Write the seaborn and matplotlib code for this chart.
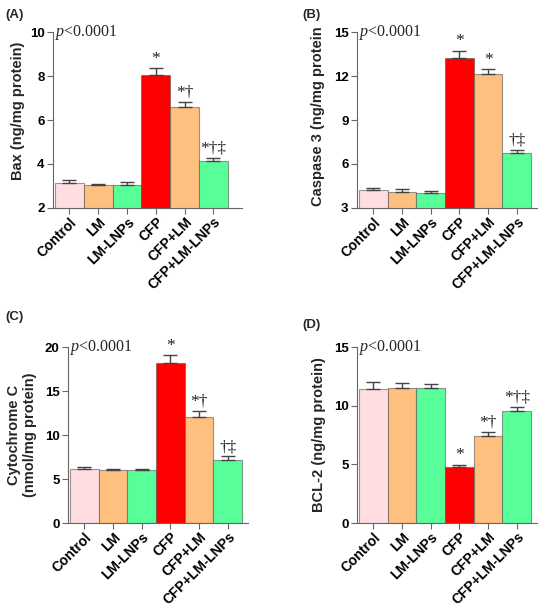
import matplotlib
matplotlib.use('Agg')
import matplotlib.pyplot as plt
import seaborn as sns

# groups and colours
groups = ['Control', 'LM', 'LM-LNPs', 'CFP', 'CFP+LM', 'CFP+LM-LNPs']
colors = ['#FFDDE0', '#FFC07F', '#58FF98', '#FF0000', '#FFC07F', '#58FF98']

# (A) Bax
bax_mean = [3.13, 3.03, 3.03, 8.03, 6.57, 4.13]
bax_sem = [0.15, 0.08, 0.15, 0.33, 0.25, 0.15]
bax_sig = ['', '', '', '*', '*†', '*†‡']

# (B) Caspase 3
casp_mean = [4.2, 4.12, 4.0, 13.25, 12.15, 6.78]
casp_sem = [0.18, 0.17, 0.15, 0.48, 0.3, 0.18]
casp_sig = ['', '', '', '*', '*', '†‡']

# (C) Cytochrome C
cyt_mean = [6.1, 6.03, 6.0, 18.2, 12.1, 7.12]
cyt_sem = [0.3, 0.08, 0.1, 0.9, 0.65, 0.45]
cyt_sig = ['', '', '', '*', '*†', '†‡']

# (D) BCL-2
bcl_mean = [11.45, 11.55, 11.55, 4.8, 7.45, 9.55]
bcl_sem = [0.55, 0.42, 0.28, 0.17, 0.28, 0.38]
bcl_sig = ['', '', '', '*', '*†', '*†‡']

sns.set_style('ticks')
plt.rcParams['font.family'] = ['Liberation Sans', 'DejaVu Sans']
plt.rcParams['mathtext.fontset'] = 'custom'
plt.rcParams['mathtext.it'] = 'Liberation Serif:italic'
plt.rcParams['mathtext.rm'] = 'Liberation Serif'

serif = ['Liberation Serif', 'DejaVu Serif']

fig = plt.figure(figsize=(5.5, 6.11), dpi=100)

panels = [
    # letter, values, errors, marks, ylabel, ticks, axes rect, xmax, label x, label y
    ('(A)', bax_mean, bax_sem, bax_sig, 'Bax (ng/mg protein)', [2, 4, 6, 8, 10],
     [0.0964, 0.6596, 0.344, 0.288], 6.0, -0.148, 0.55),
    ('(B)', casp_mean, casp_sem, casp_sig, 'Caspase 3 (ng/mg protein', [3, 6, 9, 12, 15],
     [0.649, 0.6596, 0.327, 0.288], 5.7, -0.178, 0.52),
    ('(C)', cyt_mean, cyt_sem, cyt_sig, 'Cytochrome C\n(nmol/mg protein)', [0, 5, 10, 15, 20],
     [0.1236, 0.144, 0.327, 0.288], 5.7, -0.172, 0.5),
    ('(D)', bcl_mean, bcl_sem, bcl_sig, 'BCL-2 (ng/mg protein)', [0, 5, 10, 15],
     [0.649, 0.144, 0.327, 0.288], 5.7, -0.172, 0.5),
]
letter_pos = [(5, 15), (302, 15), (5, 317), (302, 325)]

for (letter, vals, errs, sig, ylab, yt, rect, xmax, lx, ly), (px, py) in zip(panels, letter_pos):
    ax = fig.add_axes(rect)
    sns.barplot(x=groups, y=vals, hue=groups, palette=colors, legend=False, saturation=1,
                width=1.0, edgecolor=(0.35, 0.35, 0.35, 0.6), linewidth=0.8, ax=ax)
    ax.errorbar(range(len(groups)), vals, yerr=[[0] * len(errs), errs], fmt='none',
                ecolor='#444444', elinewidth=1.0, capsize=5, capthick=1.0, zorder=1)
    for i, s in enumerate(sig):
        if s:
            ax.annotate(s, (i, vals[i] + errs[i]), xytext=(0, 1), textcoords='offset points',
                        ha='center', va='bottom', fontsize=12.5, family=serif, color='#222222')
    ax.set_xlim(-0.57, xmax)
    ax.set_ylim(yt[0], yt[-1])
    ax.set_yticks(yt)
    ax.set_ylabel(ylab, fontsize=10.5, fontweight='bold')
    ax.yaxis.set_label_coords(lx, ly)
    ax.set_xlabel('')
    ax.set_xticks(range(len(groups)))
    ax.set_xticklabels(groups, rotation=45, ha='right', rotation_mode='anchor',
                       fontsize=10, fontweight='bold')
    for lab in ax.get_yticklabels():
        lab.set_fontweight('bold')
        lab.set_fontsize(9.5)
    sns.despine(ax=ax)
    for sp in ['left', 'bottom']:
        ax.spines[sp].set_color('#666666')
        ax.spines[sp].set_linewidth(0.8)
    ax.tick_params(axis='both', colors='#666666', labelcolor='black', length=4, width=0.8, pad=2)
    ax.tick_params(axis='x', pad=1)
    ax.text(0.01, 1.0, r'$p$<0.0001', transform=ax.transAxes, ha='left', va='center',
            fontsize=11.5, family=serif)
    fig.text(px / 550, 1 - py / 611, letter, ha='left', va='center',
             fontsize=9.5, fontweight='bold')

fig.savefig('out.png', dpi=100)
